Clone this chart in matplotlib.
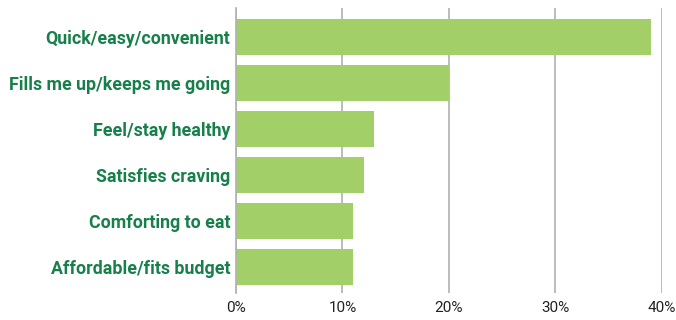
import matplotlib.pyplot as plt
from matplotlib.ticker import FuncFormatter

categories = [
    "Quick/easy/convenient",
    "Fills me up/keeps me going",
    "Feel/stay healthy",
    "Satisfies craving",
    "Comforting to eat",
    "Affordable/fits budget",
]
values = [39, 20, 13, 12, 11, 11]
x_ticks = [0, 10, 20, 30, 40]

bar_color = "#a2cf68"
label_color = "#17804a"
grid_color = "#b0b0b0"

fig = plt.figure(figsize=(6.76, 3.2), dpi=100)
ax = fig.add_axes([0.349, 0.084, 0.63, 0.891])

ax.barh(range(len(categories)), values, height=0.78, color=bar_color, zorder=2)

ax.set_xlim(0, 40)
ax.set_ylim(5.57, -0.63)
ax.set_xticks(x_ticks)
ax.xaxis.set_major_formatter(FuncFormatter(lambda v, _: f"{v:.0f}%"))
ax.set_yticks(range(len(categories)))
ax.set_yticklabels(categories, fontfamily="Roboto", fontweight="bold",
                   fontsize=12.8, color=label_color)
for lbl in ax.get_xticklabels():
    lbl.set_fontfamily("Roboto")

ax.grid(axis="x", color=grid_color, linewidth=1.2, zorder=0)
for side in ["top", "right", "bottom"]:
    ax.spines[side].set_visible(False)
ax.spines["left"].set_color(grid_color)
ax.spines["left"].set_linewidth(1.2)
ax.tick_params(axis="both", length=0)
ax.tick_params(axis="y", pad=4)
ax.tick_params(axis="x", pad=6, labelsize=11, colors="#222222")

fig.savefig("out.png", dpi=100)
